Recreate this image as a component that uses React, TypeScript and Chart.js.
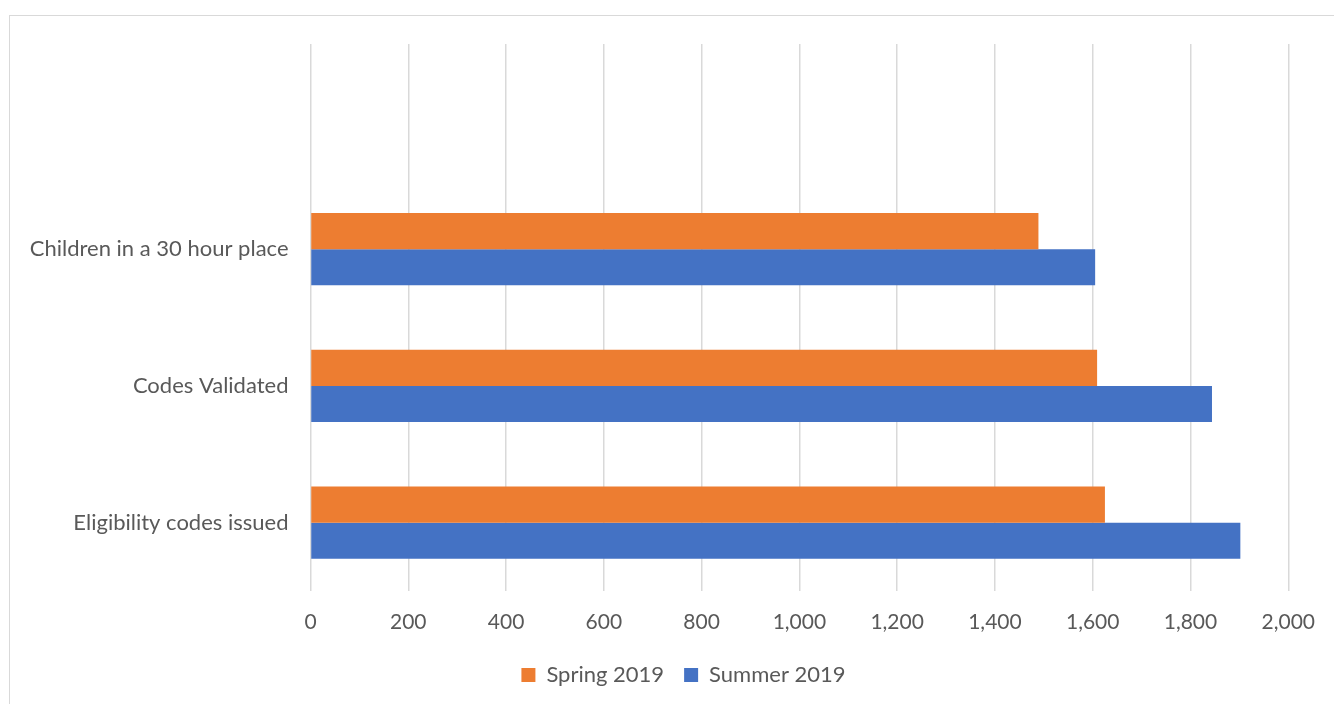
import React, { useEffect, useRef } from "react";
import { Chart, registerables } from "chart.js";

Chart.register(...registerables);

const categories = ["", "Children in a 30 hour place", "Codes Validated", "Eligibility codes issued"];
const springValues = [null, 1489, 1609, 1625];
const summerValues = [null, 1605, 1844, 1902];
const seriesNames = ["Spring 2019", "Summer 2019"];
const xMin = 0;
const xMax = 2000;
const xStep = 200;

const FONT = "Lato";
const TEXT = "#595959";

const legendShift = {
  id: "legendShift",
  afterLayout(chart: any) {
    const lg = chart.legend;
    if (lg) {
      lg.left += 38;
      lg.right += 38;
    }
  },
};

export default function App() {
  const ref = useRef<HTMLCanvasElement | null>(null);

  useEffect(() => {
    if (!ref.current) return;
    const chart = new Chart(ref.current, {
      type: "bar",
      data: {
        labels: categories,
        datasets: [
          {
            label: seriesNames[0],
            data: springValues,
            backgroundColor: "#ED7D31",
            borderWidth: 0,
            categoryPercentage: 0.527,
            barPercentage: 1,
          },
          {
            label: seriesNames[1],
            data: summerValues,
            backgroundColor: "#4472C4",
            borderWidth: 0,
            categoryPercentage: 0.527,
            barPercentage: 1,
          },
        ],
      },
      options: {
        indexAxis: "y",
        responsive: false,
        animation: false,
        layout: { padding: { left: 0, right: 43, top: 44, bottom: 8 } },
        scales: {
          x: {
            min: xMin,
            max: xMax,
            ticks: {
              stepSize: xStep,
              color: TEXT,
              font: { family: FONT, size: 21 },
              padding: 19,
            },
            grid: { color: "#d9d9d9", lineWidth: 1.5, drawTicks: false },
            border: { display: false },
            afterFit: (s: any) => {
              s.height = 53;
            },
          },
          y: {
            ticks: {
              color: TEXT,
              font: { family: FONT, size: 22 },
              padding: 22,
            },
            grid: { display: false, drawTicks: false },
            border: { display: false },
            afterFit: (s: any) => {
              s.width = 310.5;
            },
          },
        },
        plugins: {
          legend: {
            position: "bottom",
            labels: {
              color: TEXT,
              font: { family: FONT, size: 22 },
              boxWidth: 14,
              boxHeight: 14,
              padding: 20,
            },
          },
          tooltip: { enabled: false },
        },
      },
      plugins: [legendShift],
    });
    return () => chart.destroy();
  }, []);

  return (
    <div style={{ position: "fixed", left: 0, top: 0, width: 1334, height: 704, overflow: "hidden", background: "#fff" }}>
      <div
        style={{
          position: "absolute",
          left: 9,
          top: 15,
          width: 2000,
          height: 2000,
          border: "1px solid #d9d9d9",
          boxSizing: "border-box",
        }}
      />
      <canvas ref={ref} width={1334} height={704} style={{ position: "absolute", left: 0, top: 0, display: "block" }} />
    </div>
  );
}
